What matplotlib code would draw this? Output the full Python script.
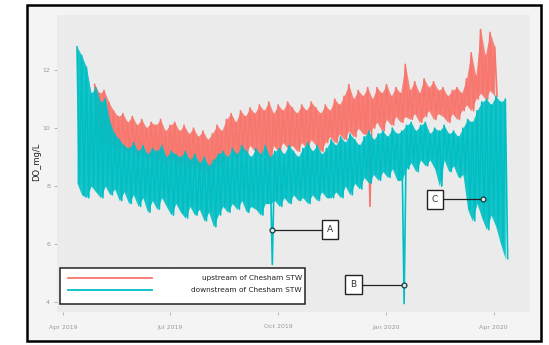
import matplotlib
matplotlib.use('Agg')
from matplotlib import pyplot as plt
from matplotlib.patches import Rectangle
from matplotlib.lines import Line2D
import numpy as np

# daily DO peaks / troughs, sampled every 4 days (trough 2 days after peak)
day0 = np.datetime64('2019-04-01')
downStart = 12
downHigh = [12.8, 12.5, 12.1, 11.2, 11.4, 10.9, 11.0, 10.2, 9.8, 9.6,
            9.4, 9.3, 9.5, 9.2, 9.4, 9.1, 9.3, 9.2, 9.4, 9.0,
            9.2, 9.1, 9.0, 9.2, 8.9, 9.1, 8.8, 9.0, 8.7, 8.9,
            9.1, 9.2, 9.0, 9.3, 9.1, 9.4, 9.2, 9.0, 9.3, 9.1,
            9.4, 9.0, 9.2, 9.3, 9.1, 9.4, 9.2, 9.0, 9.3, 9.5,
            9.2, 9.4, 9.1, 9.3, 9.6, 9.4, 9.7, 9.5, 9.8, 9.6,
            9.4, 9.7, 9.9, 9.6, 9.8, 9.9, 9.7, 10.0, 9.8, 9.9,
            10.1, 10.2, 9.9, 10.1, 10.2, 9.8, 10.0, 9.9, 10.1, 9.8,
            9.9, 9.7, 10.0, 10.3, 10.2, 10.6, 10.9, 11.0, 10.8, 11.1,
            10.9, 11.0]
downLow = [8.1, 7.7, 7.6, 8.0, 7.8, 7.6, 8.0, 7.7, 7.9, 7.5,
           7.8, 7.4, 7.7, 7.3, 7.6, 7.1, 7.5, 7.2, 7.6, 7.3,
           7.0, 7.4, 7.1, 6.9, 7.3, 7.0, 7.2, 6.8, 7.1, 6.6,
           7.0, 7.3, 7.1, 7.4, 7.2, 7.5, 7.1, 7.3, 7.2, 7.0,
           7.4, 5.3, 7.5, 7.3, 7.6, 7.4, 7.7, 7.5, 7.6, 7.4,
           7.7, 7.5, 7.8, 7.6, 7.6, 7.8, 7.6, 8.0, 7.7, 8.1,
           7.9, 8.3, 8.1, 8.4, 8.2, 8.5, 8.3, 8.6, 8.2, 3.95,
           8.6, 8.8, 8.5, 8.9, 8.7, 8.9, 8.6, 8.0, 8.9, 8.5,
           8.7, 8.3, 8.4, 7.2, 6.8, 7.4, 6.9, 6.5, 7.0, 6.6,
           6.0, 5.5]

upStart = 27
upHigh = [11.5, 11.2, 11.3, 10.9, 10.6, 10.4, 10.5, 10.2, 10.4, 10.1,
          10.3, 10.0, 10.2, 10.1, 10.3, 9.9, 10.1, 10.2, 9.9, 10.1,
          9.8, 10.0, 9.7, 9.9, 9.6, 9.8, 10.1, 9.9, 10.3, 10.5,
          10.2, 10.6, 10.4, 10.7, 10.5, 10.8, 10.6, 10.9, 10.5, 10.8,
          10.6, 10.9, 10.7, 10.5, 10.8, 10.6, 10.9, 10.7, 10.5, 10.8,
          10.6, 11.0, 10.8, 11.1, 11.5, 11.0, 11.3, 11.1, 11.4, 11.0,
          11.4, 11.2, 11.5, 11.1, 11.4, 11.2, 12.2, 11.3, 11.6, 11.2,
          11.7, 11.4, 11.6, 11.3, 11.4, 11.1, 11.3, 11.4, 11.2, 11.7,
          12.6, 11.8, 13.4, 12.5, 13.3, 12.8]
upLow = [9.8, 9.6, 9.4, 9.5, 9.3, 9.2, 9.4, 9.1, 9.3, 9.0,
         9.2, 8.9, 9.1, 8.8, 9.0, 8.7, 9.0, 8.8, 8.6, 8.9,
         8.6, 8.8, 8.5, 8.7, 8.4, 8.6, 8.8, 8.6, 9.0, 9.2,
         8.9, 9.3, 9.1, 9.4, 9.2, 9.0, 9.3, 8.6, 9.4, 9.2,
         9.5, 9.3, 9.4, 9.2, 9.5, 9.3, 9.6, 9.4, 9.2, 9.5,
         9.7, 9.5, 9.8, 9.6, 9.9, 9.7, 10.0, 9.8, 7.3, 10.0,
         10.2, 9.9, 10.3, 10.1, 10.4, 10.2, 10.4, 10.3, 10.5, 10.2,
         10.4, 10.6, 10.3, 10.5, 10.4, 10.2, 10.5, 10.3, 10.6, 10.8,
         10.6, 11.0, 11.2, 11.0, 11.3, 11.1]

seriesNames = ["upstream of Chesham STW", "downstream of Chesham STW"]
seriesColors = ["#F8766D", "#00BFC4"]

# event markers: label, day offset, DO value, label day offset
events = [("A", 178, 6.5, 227),
          ("B", 290, 4.6, 247),
          ("C", 357, 7.55, 316)]

tickLabels = ["Apr 2019", "Jul 2019", "Oct 2019", "Jan 2020", "Apr 2020"]
tickDates = ["2019-04-01", "2019-07-01", "2019-10-01", "2020-01-01", "2020-04-01"]


def toDates(days):
	return day0 + np.array(days).astype('timedelta64[D]')


def drawSeries(ax, start, highs, lows, color, z):
	n = len(highs)
	hiDays = [start + 4 * k for k in range(n)]
	loDays = [start + 4 * k + 2 for k in range(n)]
	lo = np.array(lows)
	# the shaded swing band skips single-sample drops, the line still shows them
	bandLo = lo.copy()
	for k in range(1, n - 1):
		nb = min(lo[k - 1], lo[k + 1])
		if lo[k] < nb - 1.5:
			bandLo[k] = nb
	ax.fill_between(toDates(hiDays), highs, bandLo, color=color, alpha=0.9, lw=0, zorder=z)
	days, vals = [], []
	for k in range(n):
		days += [hiDays[k], loDays[k]]
		vals += [highs[k], lows[k]]
	ax.plot(toDates(days), vals, color=color, lw=1.2, zorder=z)


W, H = 549, 345
fig = plt.figure(figsize=(W / 100, H / 100), dpi=100)
fig.patch.set_facecolor('white')

frame = Rectangle((27 / W, 1 - 341 / H), 514 / W, 336 / H, transform=fig.transFigure,
				  facecolor='#f4f4f4', edgecolor='black', linewidth=1.8, zorder=-5)
fig.patches.append(frame)

ax = fig.add_axes([57 / W, 1 - 312 / H, 473 / W, 297 / H])
ax.set_zorder(1)
ax.set_facecolor('#ebebeb')
for s in ax.spines.values():
	s.set_visible(False)

drawSeries(ax, upStart, upHigh, upLow, seriesColors[0], 3)
drawSeries(ax, downStart, downHigh, downLow, seriesColors[1], 4)

ax.set_xlim(day0 - np.timedelta64(5, 'D'), day0 + np.timedelta64(397, 'D'))
ax.set_ylim(3.66, 13.9)
ax.set_yticks([4, 6, 8, 10, 12])
ax.set_yticklabels(["4", "6", "8", "10", "12"])
ax.set_xticks([np.datetime64(d) for d in tickDates])
ax.set_xticklabels(tickLabels)
ax.tick_params(colors='#9a9a9a', labelsize=4.5, length=2, width=0.5, pad=7)
ax.tick_params(axis='y', pad=3)
ax.grid(True, color='#eeeeee', linewidth=0.5)
ax.set_axisbelow(True)

fig.text(37 / W, 1 - 162 / H, "DO_mg/L", rotation=90, ha='center', va='center',
		 fontsize=6, color='#222222')

# annotations
for label, d, v, boxDay in events:
	t = day0 + np.timedelta64(d, 'D')
	tb = day0 + np.timedelta64(boxDay, 'D')
	ax.plot([t, tb], [v, v], color='#222222', lw=0.9, zorder=6)
	ax.plot([t], [v], marker='o', ms=3.5, mfc='#cfeeee', mec='#1a3a3a', mew=0.9, zorder=7)
	ax.text(tb, v, label, ha='center', va='center', fontsize=6.5, color='#333333', zorder=8,
			bbox=dict(boxstyle='square,pad=0.55', fc='white', ec='#222222', lw=1))

# legend
legBox = Rectangle((60 / W, 1 - 304 / H), 245 / W, 36 / H, transform=fig.transFigure,
				   facecolor='white', edgecolor='#222222', linewidth=1.1, zorder=10)
fig.patches.append(legBox)
for i, (name, col) in enumerate(zip(seriesNames, seriesColors)):
	yy = 1 - (278 + 12 * i) / H
	fig.lines.append(Line2D([68 / W, 152 / W], [yy, yy], transform=fig.transFigure,
							color=col, lw=1.3, zorder=11))
	fig.text(302 / W, yy, name, ha='right', va='center', fontsize=5.3,
			 color='#222222', zorder=11)

plt.savefig("out.png", dpi=100, facecolor=fig.get_facecolor())
